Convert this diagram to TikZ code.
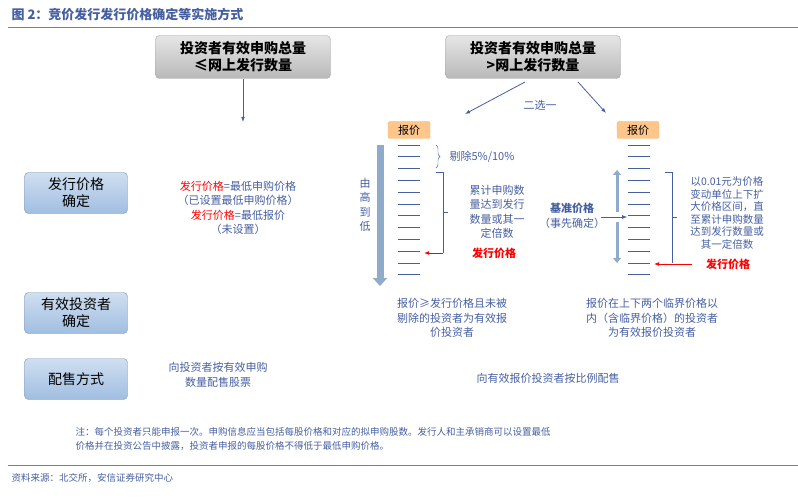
\documentclass[tikz,border=0pt]{standalone}
\usepackage{fontspec}
\setmainfont{Noto Sans CJK SC}
\usetikzlibrary{arrows.meta,decorations.pathreplacing}
\definecolor{txtblue}{RGB}{70,95,160}
\definecolor{boxblue}{RGB}{160,190,225}
\tikzset{
  topbox/.style={draw=gray!70,rounded corners=4pt,top color=gray!20,bottom color=gray!55,minimum width=175pt,minimum height=43pt,align=center,font=\fontsize{14}{17}\selectfont\bfseries},
  sidebox/.style={draw=boxblue!80!black,rounded corners=4pt,top color=boxblue!50,bottom color=boxblue,minimum width=103pt,minimum height=41pt,align=center,font=\fontsize{14}{17}\selectfont},
  pricebox/.style={fill=orange!45,draw=orange!60,rounded corners=2pt,minimum width=42pt,minimum height=17pt,font=\fontsize{11}{12}\selectfont},
  note/.style={text=txtblue,align=center,font=\fontsize{11}{14.5}\selectfont},
  redtxt/.style={text=red,font=\fontsize{11}{12}\selectfont\bfseries},
  conn/.style={-{Latex[length=5pt]},draw=txtblue,thick}
}
\begin{document}
\begin{tikzpicture}[x=1pt,y=-1pt]
\useasboundingbox (0,0) rectangle (798,500);
% title
\node[anchor=west,text=txtblue,font=\fontsize{13}{15}\selectfont\bfseries] (title) at (8,15) {图 2：竞价发行发行价格确定等实施方式};
\draw[txtblue!80,thick] (8,27) -- (798,27);
% top boxes
\node[topbox] (qa) at (243,57) {投资者有效申购总量\\≤网上发行数量};
\node[topbox] (qb) at (533,57) {投资者有效申购总量\\>网上发行数量};
\coordinate (qaend) at (243,122);
\draw[conn] (qa.south) -- (qaend);
\node[note] (pick) at (540,105) {二选一};
\node[pricebox] (pl) at (409,130) {报价};
\node[pricebox] (pr) at (638,130) {报价};
\draw[conn] (525,82) -- (465,114);
\draw[conn] (578,82) -- (606,113);
% tick lists
\foreach \i in {0,...,11}{
  \draw[txtblue,thick] (398,145+11.8*\i) -- (420,145+11.8*\i);
  \draw[txtblue,thick] (628,145+11.8*\i) -- (650,145+11.8*\i);
}
% left side
\draw[boxblue!90!black,line width=7pt,-{Triangle[length=8pt,width=14pt]}] (380,145) -- (380,286);
\node[note,align=center] (hl) at (365,205) {由\\高\\到\\低};
\draw[txtblue,decorate,decoration={brace,amplitude=4pt}] (436,145) -- (436,168);
\node[note] (cut) at (482,157) {剔除5\%/10\%};
\draw[txtblue] (436,172) -- (443,172) -- (443,253) (443,212) -- (448,212);
\node[note] (cum) at (497,212) {累计申购数\\量达到发行\\数量或其一\\定倍数};
\coordinate (ltip) at (424,253);
\draw[red,thick,-{Latex[length=5pt]}] (443,253) -- (ltip);
\node[redtxt] (lprice) at (494,253) {发行价格};
% right side
\draw[boxblue!90!black,line width=3pt,{Triangle[length=5pt,width=8pt]}-] (617,170) -- (617,212);
\draw[boxblue!90!black,line width=3pt,-{Triangle[length=5pt,width=8pt]}] (617,222) -- (617,263);
\node[note] (base) at (572,216) {\textbf{基准价格}\\（事先确定）};
\coordinate (btip) at (627,217);
\draw[conn,thin] (601,217) -- (btip);
\draw[txtblue] (665,172) -- (672,172) -- (672,263) (672,217) -- (677,217);
\node[note,font=\fontsize{10.5}{12.5}\selectfont] (expand) at (727,213) {以0.01元为价格\\变动单位上下扩\\大价格区间，直\\至累计申购数量\\达到发行数量或\\其一定倍数};
\coordinate (rtip) at (654,264);
\draw[red,thick,-{Latex[length=5pt]}] (692,264) -- (rtip);
\node[redtxt] (rprice) at (728,264) {发行价格};
% side boxes
\node[sidebox] (s1) at (76,193) {发行价格\\确定};
\node[sidebox] (s2) at (76,313) {有效投资者\\确定};
\node[sidebox] (s3) at (76,379) {配售方式};
\node[note,align=center] (m1) at (238,208) {\textcolor{red}{发行价格}=最低申购价格\\（已设置最低申购价格）\\\textcolor{red}{发行价格}=最低报价\\（未设置）};
\node[note] (m2) at (452,318) {报价≥发行价格且未被\\剔除的投资者为有效报\\价投资者};
\node[note] (m3) at (652,318) {报价在上下两个临界价格以\\内（含临界价格）的投资者\\为有效报价投资者};
\node[note] (m4) at (218,375) {向投资者按有效申购\\数量配售股票};
\node[note] (m5) at (548,378) {向有效报价投资者按比例配售};
% notes
\node[anchor=west,text=txtblue,align=left,font=\fontsize{9.5}{14}\selectfont] (fn) at (72,439) {注：每个投资者只能申报一次。申购信息应当包括每股价格和对应的拟申购股数。发行人和主承销商可以设置最低\\价格并在投资公告中披露，投资者申报的每股价格不得低于最低申购价格。};
\draw[txtblue!80] (8,465) -- (798,465);
\node[anchor=west,text=txtblue,font=\fontsize{9.5}{11}\selectfont] (src) at (8,478) {资料来源：北交所，安信证券研究中心};
\end{tikzpicture}
\end{document}
